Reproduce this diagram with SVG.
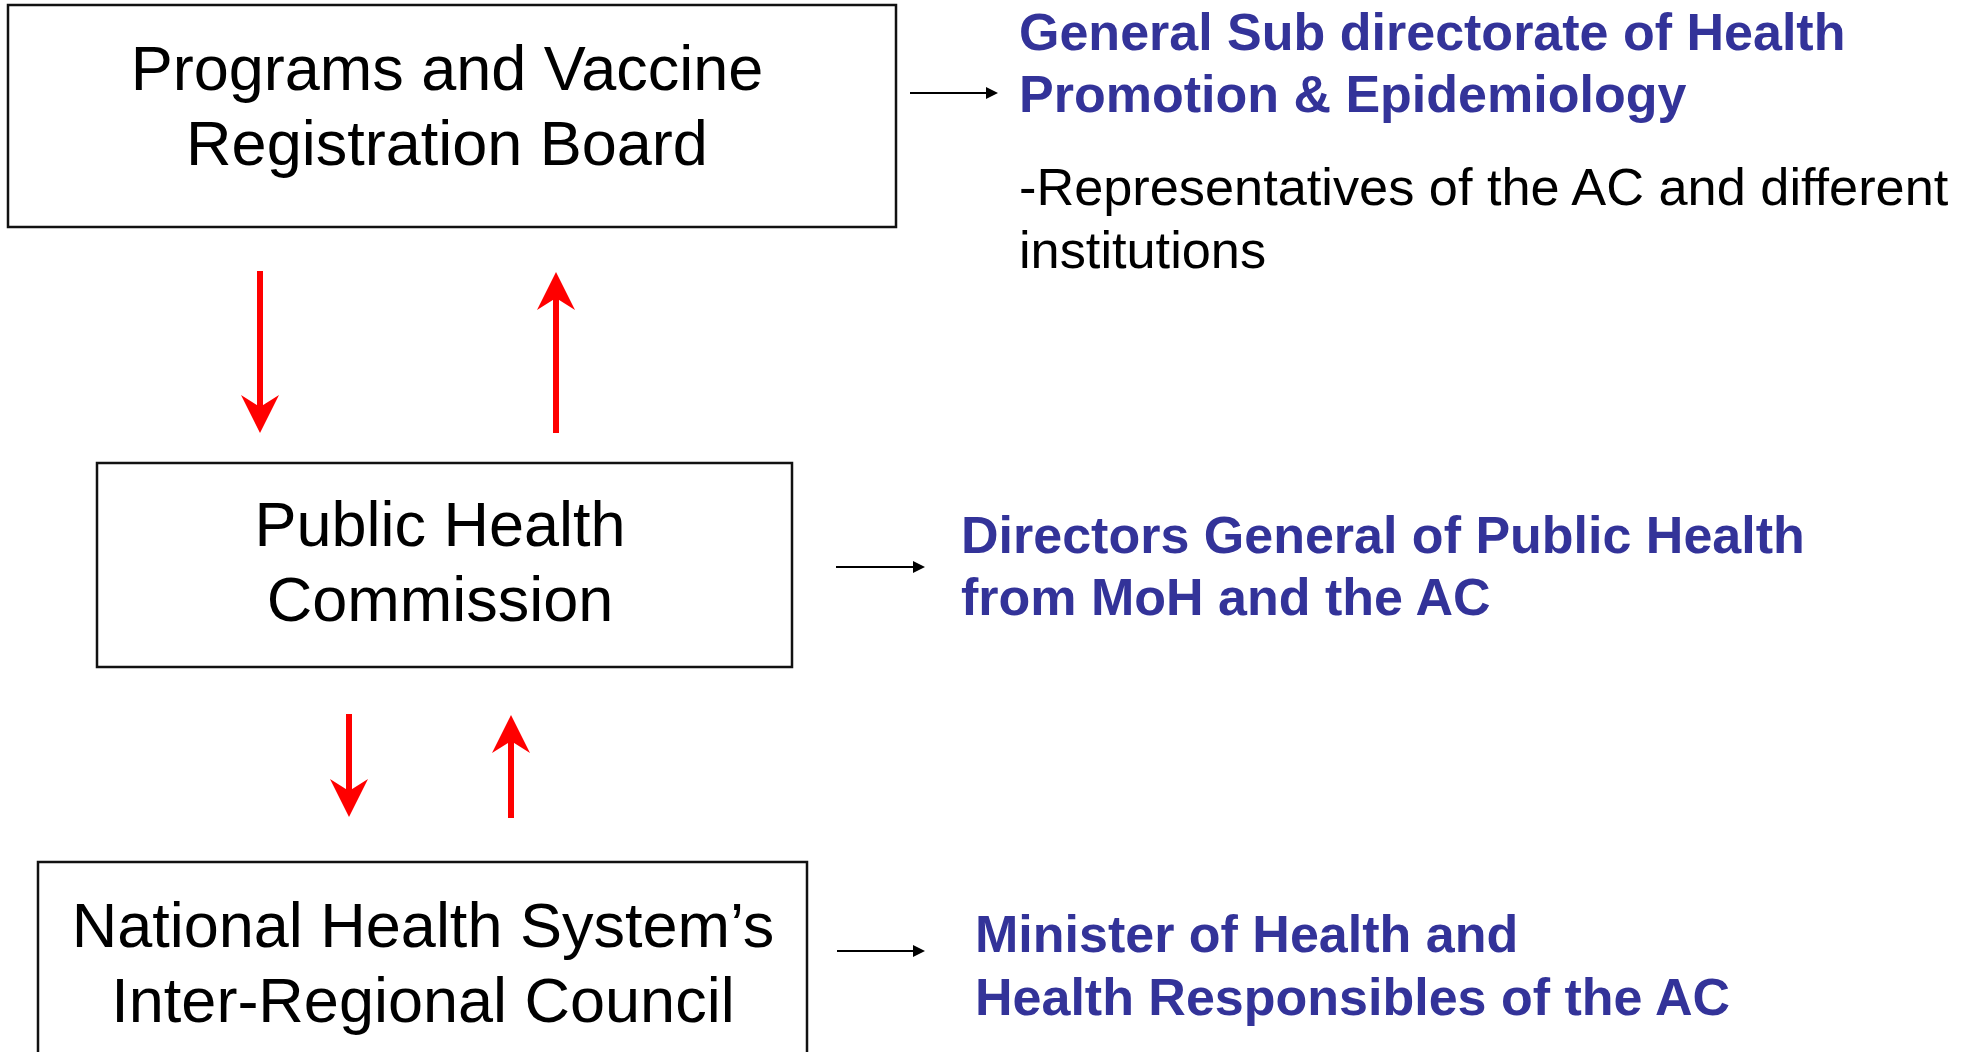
<svg xmlns="http://www.w3.org/2000/svg" width="1971" height="1052" viewBox="0 0 1971 1052">
  <style>
    .box { fill: #ffffff; stroke: #111111; stroke-width: 2.5; }
    .label { font-family: "Liberation Sans", Arial, sans-serif; font-size: 63px; fill: #000000; text-anchor: middle; }
    .member { font-family: "Liberation Sans", Arial, sans-serif; font-size: 52px; font-weight: bold; fill: #333399; }
    .note { font-family: "Liberation Sans", Arial, sans-serif; font-size: 52.3px; fill: #000000; }
    .flow { stroke: #ff0000; stroke-width: 6; fill: none; }
    .link { stroke: #000000; stroke-width: 2.2; fill: none; }
  </style>
  <defs>
    <marker id="redHead" markerUnits="userSpaceOnUse" viewBox="-40 -20 42 40" markerWidth="42" markerHeight="40" refX="-26" refY="0" orient="auto">
      <path d="M0,0 L-38,-19 L-26,0 L-38,19 Z" fill="#ff0000"/>
    </marker>
    <marker id="blackHead" markerUnits="userSpaceOnUse" viewBox="-13 -7 14 14" markerWidth="14" markerHeight="14" refX="-12" refY="0" orient="auto">
      <path d="M0,0 L-12,-6 L-12,6 Z" fill="#000000"/>
    </marker>
  </defs>

  <rect width="1971" height="1052" fill="#ffffff"/>

  <!-- Boards and councils -->
  <g id="node-board">
    <rect class="box" x="8" y="5" width="888" height="222"/>
    <text class="label" x="447" y="90">Programs and Vaccine</text>
    <text class="label" x="447" y="165">Registration Board</text>
  </g>

  <g id="node-commission">
    <rect class="box" x="97" y="463" width="695" height="204"/>
    <text class="label" x="440" y="546">Public Health</text>
    <text class="label" x="440" y="621">Commission</text>
  </g>

  <g id="node-council">
    <rect class="box" x="38" y="862" width="769" height="210"/>
    <text class="label" x="423" y="947">National Health System’s</text>
    <text class="label" x="423" y="1022">Inter-Regional Council</text>
  </g>

  <!-- Membership descriptions -->
  <g id="node-board-members">
    <text class="member" x="1019" y="50">General Sub directorate of Health</text>
    <text class="member" x="1019" y="112">Promotion &amp; Epidemiology</text>
    <text class="note" x="1019" y="205">-Representatives of the AC and different</text>
    <text class="note" x="1019" y="268">institutions</text>
  </g>

  <g id="node-commission-members">
    <text class="member" x="961" y="553">Directors General of Public Health</text>
    <text class="member" x="961" y="615">from MoH and the AC</text>
  </g>

  <g id="node-council-members">
    <text class="member" x="975" y="952">Minister of Health and</text>
    <text class="member" x="975" y="1015">Health Responsibles of the AC</text>
  </g>

  <!-- Connectors -->
  <g id="connectors">
    <line class="flow" x1="260" y1="271" x2="260" y2="407" marker-end="url(#redHead)"/>
    <line class="flow" x1="556" y1="433" x2="556" y2="298" marker-end="url(#redHead)"/>
    <line class="flow" x1="349" y1="714" x2="349" y2="791" marker-end="url(#redHead)"/>
    <line class="flow" x1="511" y1="818" x2="511" y2="741" marker-end="url(#redHead)"/>

    <line class="link" x1="910" y1="93" x2="986" y2="93" marker-end="url(#blackHead)"/>
    <line class="link" x1="836" y1="567" x2="913" y2="567" marker-end="url(#blackHead)"/>
    <line class="link" x1="837" y1="951" x2="913" y2="951" marker-end="url(#blackHead)"/>
  </g>
</svg>
